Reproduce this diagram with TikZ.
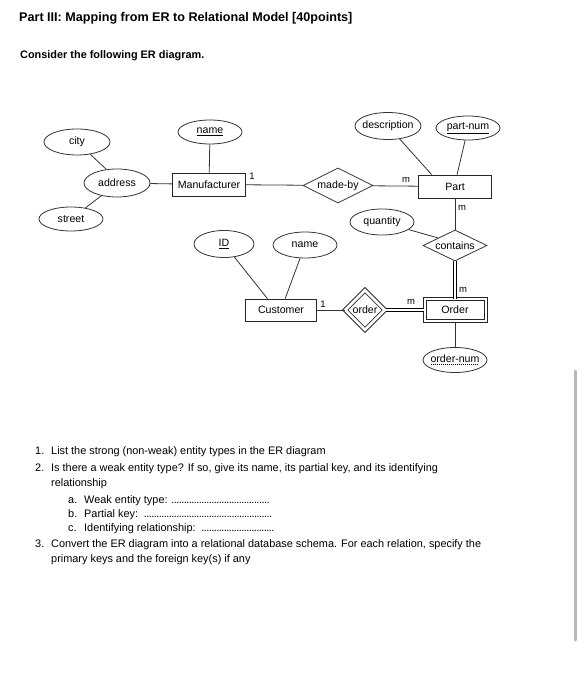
\documentclass[tikz,border=0pt]{standalone}
\usepackage{fontspec}
\setmainfont{Liberation Sans}
\usetikzlibrary{shapes.geometric}

% dotted answer line of a fixed width
\newcommand{\answerline}[2]{\makebox[#1][l]{#2\leaders\hbox to 2.5pt{\hss.\hss}\hfill}}
% dashed underline for a partial key
\newcommand{\dashunder}[1]{\setbox0\hbox{#1}\rlap{\raisebox{-2pt}{\leaders\hbox to 2pt{\rule{1.2pt}{0.5pt}\hss}\hskip\wd0}}\box0}

\begin{document}
\begin{tikzpicture}[x=1pt, y=-1pt,
    attr/.style={ellipse, draw=black!80, line width=0.8pt, inner xsep=-20pt, inner ysep=0pt,
      minimum width=64pt, minimum height=25pt, font=\fontsize{10.6}{12}\selectfont},
    entity/.style={rectangle, draw=black!85, line width=0.8pt, inner sep=0pt,
      minimum width=73pt, minimum height=23pt, font=\fontsize{10.6}{12}\selectfont},
    rel/.style={diamond, draw=black!80, line width=0.8pt, inner xsep=-20pt, inner ysep=-3pt,
      font=\fontsize{10.6}{12}\selectfont},
    link/.style={draw=black!80, line width=0.8pt},
    twin/.style={double, double distance=2pt, line width=1pt},
    card/.style={inner sep=0pt, font=\fontsize{9.5}{10}\selectfont},
    qtext/.style={anchor=base west, inner sep=0pt, font=\fontsize{10.9}{12}\selectfont}]
  % page
  \fill[white] (0,0) rectangle (583,700);
  \useasboundingbox (0,0) rectangle (583,700);
  % Heading
  \node[qtext, font=\fontsize{12.6}{14}\bfseries] (title) at (19,21.5)
    {Part III: Mapping from ER to Relational Model [40points]};
  \node[qtext, font=\fontsize{10.9}{12}\bfseries] (intro) at (20,58.5)
    {Consider the following ER diagram.};

  % Manufacturer and its attributes
  \node[entity] (manufacturer) at (209,184.5) {Manufacturer};
  \node[attr, minimum width=66pt, minimum height=26pt] (city) at (77,142) {city};
  \node[attr, minimum width=66pt, minimum height=28pt] (address) at (117,183) {address};
  \node[attr, minimum width=64pt, minimum height=24pt] (street) at (71,219) {street};
  \node[attr, minimum width=64pt, minimum height=24pt] (mname) at (210,132) {\underline{name}};
  \draw[link] (city) -- (address.128);
  \draw[link] (street) -- (address.219);
  \draw[link] (address) -- (manufacturer);
  \draw[link] (mname) -- (manufacturer);

  % made-by and Part
  \node[rel, minimum width=70pt, minimum height=35pt, aspect=2] (madeby) at (338,185.5) {made-by};
  \node[entity] (part) at (455,186.5) {Part};
  \node[attr, minimum width=66pt, minimum height=27pt] (description) at (388,126) {description};
  \node[attr, minimum width=64pt, minimum height=24pt] (partnum) at (468,128) {\underline{part-num}};
  \draw[link] (manufacturer) -- (madeby);
  \draw[link] (madeby) -- (part);
  \draw[link] (description) -- (part.153);
  \draw[link] (partnum) -- (part.80);
  \node[card] (c1) at (252,176) {1};
  \node[card] (c2) at (406,180) {m};

  % contains
  \node[rel, minimum width=64pt, minimum height=31pt, aspect=2] (contains) at (455,245.5) {contains};
  \node[attr, minimum width=64pt, minimum height=26pt] (quantity) at (382,222) {quantity};
  \draw[link] (part) -- (contains);
  \draw[link] (quantity) -- (contains.156);
  \node[card] (c3) at (462,208) {m};

  % Customer and its attributes
  \node[entity, minimum width=71pt, minimum height=22pt] (customer) at (281,310) {Customer};
  \node[attr, minimum width=60pt, minimum height=27pt] (cid) at (224,244) {\underline{ID}};
  \node[attr, minimum width=64pt, minimum height=26pt] (cname) at (305,245) {name};
  \draw[link] (cid) -- (customer.140);
  \draw[link] (cname) -- (customer.70);

  % weak entity Order with its identifying relationship
  \node[rel, minimum width=40pt, minimum height=40pt, twin, double distance=2.6pt] (order) at (365,310) {order};
  \node[entity, minimum width=61pt, minimum height=22pt, twin] (orderbox) at (455,310) {Order};
  \node[attr, minimum width=64pt, minimum height=25pt] (ordernum) at (455,360) {\dashunder{order-num}};
  \draw[link] (customer) -- (order);
  \draw[twin] (order) -- (orderbox);
  \draw[twin] (contains) -- (orderbox);
  \draw[link] (orderbox) -- (ordernum);
  \node[card] (c4) at (323,304) {1};
  \node[card] (c5) at (411,302) {m};
  \node[card] (c6) at (463,290) {m};

  % Questions
  \node[qtext] (n1) at (35,454) {1.};
  \node[qtext] (q1) at (51,454) {List the strong (non-weak) entity types in the ER diagram};
  \node[qtext] (n2) at (35,471) {2.};
  \node[qtext] (q2) at (51,471) {Is there a weak entity type? If so, give its name, its partial key, and its identifying};
  \node[qtext] (q2b) at (51,486.5) {relationship};
  \node[qtext] (na) at (68,503) {a.};
  \node[qtext] (qa) at (84,503) {\answerline{186pt}{Weak entity type: }};
  \node[qtext] (nb) at (68,517) {b.};
  \node[qtext] (qb) at (84,517) {\answerline{188pt}{Partial key: }};
  \node[qtext] (nc) at (68,531) {c.};
  \node[qtext] (qc) at (84,531) {\answerline{190pt}{Identifying relationship: }};
  \node[qtext] (n3) at (35,547) {3.};
  \node[qtext] (q3) at (51,547) {Convert the ER diagram into a relational database schema. For each relation, specify the};
  \node[qtext] (q3b) at (51,562) {primary keys and the foreign key(s) if any};

  % scroll bar
  \draw[line width=3pt, gray!55, line cap=round] (575,371) -- (575,640);
\end{tikzpicture}
\end{document}
